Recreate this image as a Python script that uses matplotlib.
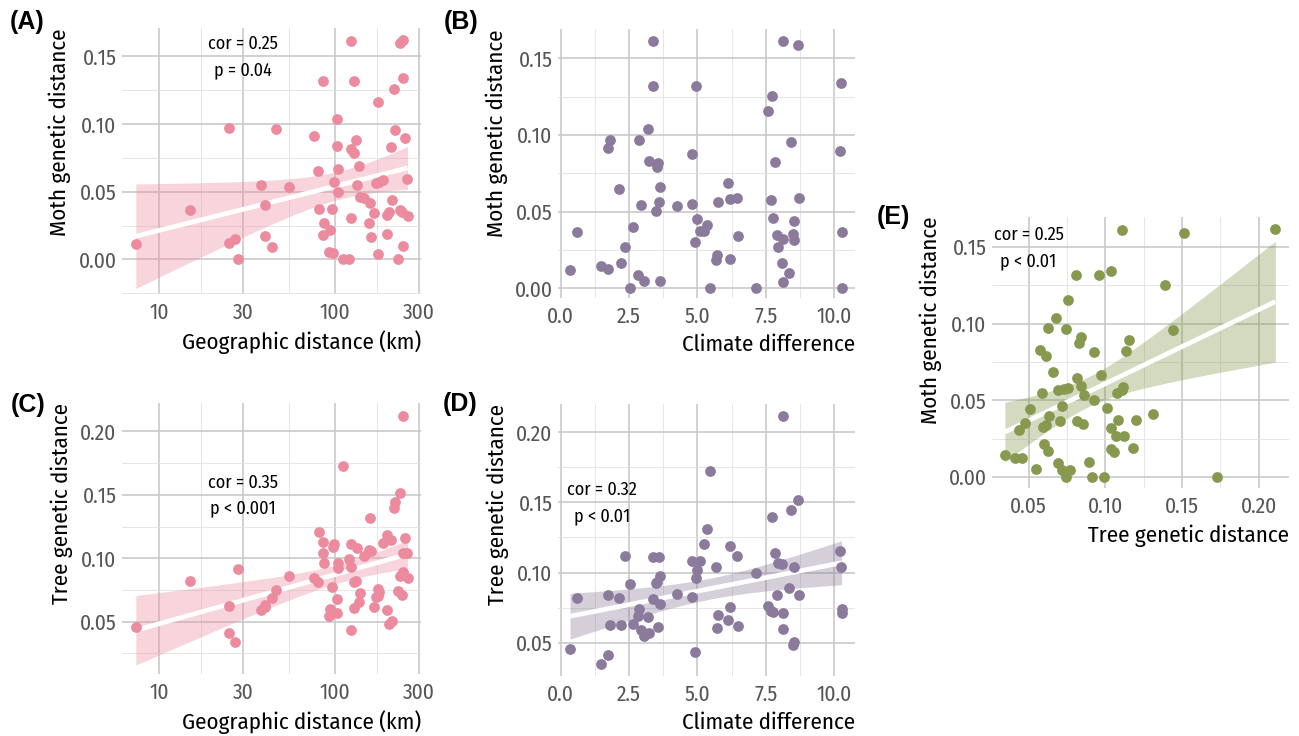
import numpy as np
import matplotlib
matplotlib.use("Agg")
import matplotlib.pyplot as plt
from matplotlib.ticker import FixedLocator, NullFormatter

plt.rcParams['font.family'] = ['Fira Sans Condensed', 'IBM Plex Sans Condensed',
                               'Archivo Narrow', 'DejaVu Sans']

# (A) geographic distance vs moth genetic distance
geo_a = [7.36, 14.9, 25.0, 25.0, 27.0, 27.9, 37.8, 39.8, 39.8, 43.8, 45.9, 54.5, 75.9,
         80.3, 80.7, 85.9, 86.9, 85.5, 93.7, 92.3, 97.8, 96.5, 99.1, 102.2, 103, 103.8,
         104, 111.4, 120.7, 122.8, 123.1, 122.8, 128.2, 127.9, 131.3, 132.8, 136.9,
         138.7, 146.8, 156.8, 158.2, 161, 166.7, 170.4, 175, 175.8, 178.7, 188.4,
         196.8, 197.7, 203.8, 208.4, 212, 216.7, 219.6, 227.5, 232.5, 234.5, 239.6,
         244.9, 244.9, 244.9, 251.3, 255.9, 258.2]
moth_a = [0.0118, 0.0367, 0.097, 0.012, 0.0148, 0.0, 0.0549, 0.0399, 0.017, 0.0091,
          0.0966, 0.0534, 0.0914, 0.065, 0.0374, 0.132, 0.0273, 0.018, 0.0219, 0.0052,
          0.0049, 0.0372, 0.0569, 0.104, 0.0835, 0.0665, 0.0502, 0.0, 0.0, 0.1616,
          0.0305, 0.0818, 0.079, 0.132, 0.0879, 0.0552, 0.0687, 0.0463, 0.0451, 0.0273,
          0.0416, 0.0165, 0.0345, 0.0567, 0.116, 0.0042, 0.0576, 0.0589, 0.0325,
          0.0187, 0.0352, 0.083, 0.0443, 0.1256, 0.096, 0.0, 0.1596, 0.0362, 0.0352,
          0.1618, 0.134, 0.0099, 0.0897, 0.0594, 0.0318]

# (B) climate difference vs moth genetic distance
clim_b = [0.34, 0.59, 1.49, 1.72, 1.73, 1.81, 2.12, 2.22, 2.36, 2.52, 2.65, 2.83, 2.88,
          2.93, 3.05, 3.19, 3.24, 3.38, 3.39, 3.50, 3.54, 3.55, 3.59, 3.63, 3.63, 4.24,
          4.81, 4.81, 4.92, 4.98, 4.95, 5.08, 5.23, 5.35, 5.47, 5.70, 5.73, 5.74, 6.13,
          6.18, 6.21, 6.45, 6.47, 7.14, 7.58, 7.68, 7.74, 7.77, 7.85, 7.92, 7.95, 8.10,
          8.12, 8.12, 8.14, 8.36, 8.42, 8.51, 8.53, 8.55, 8.69, 8.71, 10.23, 10.24,
          10.28, 10.28]
moth_b = [0.0122, 0.0365, 0.0145, 0.0124, 0.0912, 0.0968, 0.0647, 0.0167, 0.0271, 0.0,
          0.0397, 0.0089, 0.0964, 0.0545, 0.005, 0.104, 0.0829, 0.1316, 0.161, 0.0502,
          0.0788, 0.0814, 0.0564, 0.0662, 0.0046, 0.0534, 0.0547, 0.0875, 0.0302,
          0.0452, 0.1316, 0.0371, 0.0376, 0.0415, 0.0, 0.0182, 0.0215, 0.0562, 0.0684,
          0.058, 0.0189, 0.0586, 0.0341, 0.0, 0.1157, 0.0575, 0.1253, 0.046, 0.0825,
          0.0345, 0.0271, 0.0165, 0.1615, 0.0041, 0.0323, 0.0098, 0.0955, 0.0352,
          0.0441, 0.0317, 0.1587, 0.059, 0.0892, 0.134, 0.0365, 0.0]

# (C) geographic distance vs tree genetic distance
geo_c = geo_a
tree_c = [0.0455, 0.0818, 0.0624, 0.0408, 0.0342, 0.0913, 0.059, 0.0618, 0.0634, 0.0689,
          0.0747, 0.0858, 0.0842, 0.0816, 0.1205, 0.104, 0.096, 0.1124, 0.0603, 0.0545,
          0.1087, 0.0771, 0.111, 0.0679, 0.0568, 0.0966, 0.0924, 0.1726, 0.0997, 0.111,
          0.0932, 0.0432, 0.081, 0.061, 0.0824, 0.1079, 0.0658, 0.0724, 0.1021, 0.1068,
          0.1316, 0.1058, 0.0613, 0.0692, 0.0758, 0.0703, 0.0732, 0.1121, 0.1184,
          0.0595, 0.0482, 0.114, 0.0505, 0.1395, 0.1447, 0.0742, 0.1516, 0.0858, 0.0711,
          0.2118, 0.1042, 0.0895, 0.1158, 0.1042, 0.0845]

# (D) climate difference vs tree genetic distance
clim_d = clim_b
tree_d = [0.0457, 0.0821, 0.0345, 0.041, 0.084, 0.0626, 0.0817, 0.0624, 0.1121, 0.0917,
          0.0631, 0.0693, 0.0743, 0.059, 0.0548, 0.068, 0.0567, 0.0812, 0.111, 0.0924,
          0.0936, 0.0612, 0.111, 0.0974, 0.0774, 0.0845, 0.0826, 0.1079, 0.0433, 0.1019,
          0.096, 0.1083, 0.1205, 0.1314, 0.1726, 0.104, 0.0602, 0.0695, 0.0664, 0.1186,
          0.0755, 0.1119, 0.0617, 0.0998, 0.0764, 0.0729, 0.1393, 0.0717, 0.1136,
          0.0843, 0.1071, 0.1062, 0.2114, 0.0598, 0.0714, 0.0893, 0.1443, 0.0481,
          0.0507, 0.104, 0.1514, 0.0843, 0.1155, 0.104, 0.0738, 0.071]

# (E) tree genetic distance vs moth genetic distance
tree_e = [0.0346, 0.0409, 0.0435, 0.0459, 0.048, 0.0511, 0.0548, 0.0572, 0.0589, 0.0595,
          0.0602, 0.0611, 0.0617, 0.0626, 0.0626, 0.0634, 0.066, 0.0682, 0.0693, 0.0693,
          0.0708, 0.0715, 0.0721, 0.0728, 0.0741, 0.0745, 0.0756, 0.076, 0.0773, 0.0812,
          0.0817, 0.0819, 0.0827, 0.084, 0.0843, 0.0858, 0.0862, 0.0892, 0.0916, 0.0925,
          0.0929, 0.096, 0.097, 0.0994, 0.1014, 0.1038, 0.1038, 0.104, 0.1059, 0.107,
          0.1077, 0.1083, 0.1109, 0.1111, 0.1118, 0.1122, 0.1137, 0.1153, 0.1183, 0.12,
          0.1313, 0.1387, 0.1439, 0.1512, 0.1725, 0.2108]
moth_e = [0.0146, 0.0124, 0.0304, 0.0122, 0.0352, 0.0443, 0.005, 0.083, 0.0546, 0.0326,
          0.0215, 0.0787, 0.0337, 0.097, 0.017, 0.0398, 0.0685, 0.1039, 0.0565, 0.0089,
          0.0365, 0.0048, 0.0461, 0.0576, 0.0, 0.0965, 0.0578, 0.1157, 0.0046, 0.132,
          0.0646, 0.0365, 0.0876, 0.0911, 0.0593, 0.0346, 0.0535, 0.0098, 0.0, 0.0502,
          0.0813, 0.132, 0.0665, 0.0, 0.045, 0.0317, 0.1341, 0.0183, 0.0163, 0.027,
          0.0548, 0.037, 0.1613, 0.057, 0.0589, 0.027, 0.0824, 0.0893, 0.0189, 0.0374,
          0.0413, 0.1254, 0.0959, 0.1589, 0.0, 0.1615]

PINK = '#EC8A9E'
PURPLE = '#8B7A9B'
GREEN = '#87994F'
W, H = 1299, 736

fig = plt.figure(figsize=(W / 100, H / 100), dpi=100)


def px_axes(l, t, r, b):
    return fig.add_axes([l / W, 1 - b / H, (r - l) / W, (b - t) / H])


def style(ax, xmaj, xmin, xlab, ymaj, ymin, ylab, xticklabels=None):
    ax.xaxis.set_major_locator(FixedLocator(xmaj))
    ax.xaxis.set_minor_locator(FixedLocator(xmin))
    ax.yaxis.set_major_locator(FixedLocator(ymaj))
    ax.yaxis.set_minor_locator(FixedLocator(ymin))
    ax.xaxis.set_minor_formatter(NullFormatter())
    ax.yaxis.set_minor_formatter(NullFormatter())
    if xticklabels is not None:
        ax.set_xticklabels(xticklabels)
    ax.set_yticklabels(['%.2f' % v for v in ymaj])
    ax.grid(which='major', color='#C9C9C9', lw=1.2)
    ax.grid(which='minor', color='#E2E2E2', lw=0.6)
    ax.set_axisbelow(True)
    for s in ax.spines.values():
        s.set_visible(False)
    ax.tick_params(which='both', length=0, labelsize=15.5, labelcolor='#555555')
    ax.tick_params(axis='x', pad=6)
    ax.tick_params(axis='y', pad=4)
    ax.set_xlabel(xlab, loc='right', fontsize=16.5, labelpad=5)
    ax.set_ylabel(ylab, loc='top', fontsize=16.5, labelpad=5)


def smooth(ax, x, y, color, log=False):
    # linear fit with 95% confidence band, fitted on the plotted scale
    x = np.asarray(x, float)
    y = np.asarray(y, float)
    xt = np.log10(x) if log else x
    n = len(xt)
    b, a = np.polyfit(xt, y, 1)
    res = y - (a + b * xt)
    s = np.sqrt(np.sum(res ** 2) / (n - 2))
    sxx = np.sum((xt - xt.mean()) ** 2)
    g = np.linspace(xt.min(), xt.max(), 100)
    fit = a + b * g
    se = s * np.sqrt(1 / n + (g - xt.mean()) ** 2 / sxx)
    gx = 10 ** g if log else g
    ax.fill_between(gx, fit - 2.0 * se, fit + 2.0 * se, color=color, alpha=0.36,
                    lw=0, zorder=2)
    ax.plot(gx, fit, color='white', lw=3.4, zorder=3, solid_capstyle='butt')


def panel_label(x, y, s):
    fig.text(x / W, 1 - y / H, s, fontsize=18, fontweight='bold',
             family='Liberation Sans', va='center', ha='left')


geo_maj = [10, 30, 100, 300]
geo_min = [17.3, 54.8, 173]
ann = dict(ha='center', va='center', fontsize=13, zorder=5)
PT = 60

# A
ax = px_axes(122, 28, 421, 294)
ax.set_xscale('log')
smooth(ax, geo_a, moth_a, PINK, log=True)
ax.scatter(geo_a, moth_a, s=PT, color=PINK, lw=0, zorder=4)
style(ax, geo_maj, geo_min, 'Geographic distance (km)', [0, 0.05, 0.10, 0.15],
      [-0.025, 0.025, 0.075, 0.125], 'Moth genetic distance', ['10', '30', '100', '300'])
ax.set_xlim(6.14, 308)
ax.set_ylim(-0.0255, 0.171)
ax.text(30, 0.159, 'cor = 0.25', **ann)
ax.text(30, 0.1397, 'p = 0.04', **ann)

# B
ax = px_axes(558, 29, 855, 298)
ax.scatter(clim_b, moth_b, s=PT, color=PURPLE, lw=0, zorder=4)
style(ax, [0, 2.5, 5, 7.5, 10], [1.25, 3.75, 6.25, 8.75], 'Climate difference',
      [0, 0.05, 0.10, 0.15], [0.025, 0.075, 0.125], 'Moth genetic distance',
      ['0.0', '2.5', '5.0', '7.5', '10.0'])
ax.set_xlim(-0.1, 10.77)
ax.set_ylim(-0.0063, 0.169)

# C
ax = px_axes(122, 403, 421, 674)
ax.set_xscale('log')
smooth(ax, geo_c, tree_c, PINK, log=True)
ax.scatter(geo_c, tree_c, s=PT, color=PINK, lw=0, zorder=4)
style(ax, geo_maj, geo_min, 'Geographic distance (km)', [0.05, 0.10, 0.15, 0.20],
      [0.025, 0.075, 0.125, 0.175], 'Tree genetic distance', ['10', '30', '100', '300'])
ax.set_xlim(6.14, 308)
ax.set_ylim(0.0087, 0.2224)
ax.text(30, 0.1597, 'cor = 0.35', **ann)
ax.text(30, 0.1395, 'p < 0.001', **ann)

# D
ax = px_axes(558, 404, 855, 676)
smooth(ax, clim_d, tree_d, PURPLE)
ax.scatter(clim_d, tree_d, s=PT, color=PURPLE, lw=0, zorder=4)
style(ax, [0, 2.5, 5, 7.5, 10], [1.25, 3.75, 6.25, 8.75], 'Climate difference',
      [0.05, 0.10, 0.15, 0.20], [0.075, 0.125, 0.175], 'Tree genetic distance',
      ['0.0', '2.5', '5.0', '7.5', '10.0'])
ax.set_xlim(-0.1, 10.77)
ax.set_ylim(0.0262, 0.2202)
ax.text(1.51, 0.159, 'cor = 0.32', **ann)
ax.text(1.51, 0.140, 'p < 0.01', **ann)

# E
ax = px_axes(992, 217, 1289, 488)
smooth(ax, tree_e, moth_e, GREEN)
ax.scatter(tree_e, moth_e, s=PT, color=GREEN, lw=0, zorder=4)
style(ax, [0.05, 0.10, 0.15, 0.20], [0.075, 0.125, 0.175], 'Tree genetic distance',
      [0, 0.05, 0.10, 0.15], [0.025, 0.075, 0.125], 'Moth genetic distance',
      ['0.05', '0.10', '0.15', '0.20'])
ax.set_xlim(0.0262, 0.2197)
ax.set_ylim(-0.0072, 0.1696)
ax.text(0.05, 0.158, 'cor = 0.25', **ann)
ax.text(0.05, 0.141, 'p < 0.01', **ann)

panel_label(10, 22, '(A)')
panel_label(444, 22, '(B)')
panel_label(11, 405, '(C)')
panel_label(443, 404, '(D)')
panel_label(877, 217, '(E)')

fig.savefig('out.png', dpi=100)
